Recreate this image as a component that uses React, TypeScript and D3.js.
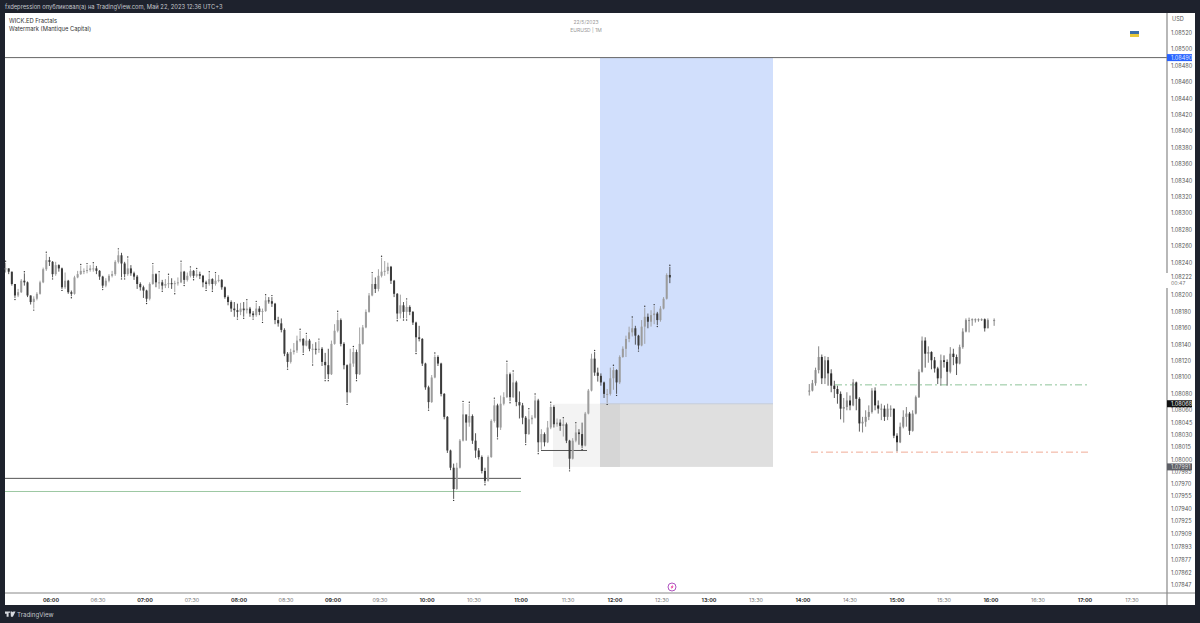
import React from "react";
import * as d3 from "d3";

// Prices are stored as points above 1.00000 (1 point = 0.00001)
const PRICE_BASE = 1.0;
const POINT = 0.00001;

// Morning session, 2-minute bars from 05:31
const closesA = [
8233,8229,8214,8200,8204,8218,8216,8200,8192,8196,8202,8216,8232,8243,8241,8226,8237,8233,8210,8218,8204,8202,8222,8226,8230,8230,8231,8233,8233,8230,8223,8212,8218,8224,8226,8241,8249,8239,8226,8233,8227,8223,8214,8210,8206,8196,8214,8226,8216,8216,8212,8214,8215,8214,8215,8216,8229,8219,8224,8230,8224,8226,8224,8216,8214,8220,8214,8218,8219,8210,8198,8192,8184,8182,8180,8184,8182,8184,8178,8176,8184,8180,8181,8194,8193,8190,8170,8166,8158,8129,8119,8131,8133,8145,
8147,8139,8145,8135,8135,8134,8135,8119,8115,8104,8141,8157,8170,8141,8115,8082,8117,8131,8104,8141,8161,8180,8200,8214,8208,8224,8229,8230,8235,8218,8202,8178,8188,8180,8186,8180,8167,8149,8147,8117,8088,8070,8100,8125,8117,8080,8052,8011,7990,7964,7990,8023,8055,8045,8053,8023,8011,8003,7986,7974,8003,8047,8066,8039,8068,8076,8104,8076,8094,8070,8066,8051,8031,8049,8051,8072,8021,8031,8021,8039,8064,8043,8045,8041,8043,8023,8001,8023,8033,8031,8017,8056,8084,8123,8106,8102,8094,
8080,8080,8099,8109,8094,8125,8135,8147,8155,8160,8151,8139,8162,8174,8168,8176,8178,8170,8184,8196,8225,8222];
const highsA = [
8240,8233,8229,8214,8208,8220,8227,8217,8200,8199,8204,8218,8234,8251,8247,8242,8241,8238,8234,8228,8219,8206,8224,8230,8236,8233,8237,8237,8238,8236,8231,8224,8221,8226,8230,8243,8255,8252,8241,8245,8237,8229,8225,8216,8212,8207,8216,8237,8227,8227,8219,8220,8224,8221,8218,8222,8240,8230,8228,8233,8231,8231,8229,8225,8218,8227,8221,8226,8225,8220,8211,8200,8194,8192,8190,8191,8192,8193,8186,8181,8191,8187,8184,8199,8198,8198,8191,8174,8172,8160,8131,8135,8142,8151,
8157,8148,8152,8147,8141,8143,8145,8137,8130,8135,8145,8165,8179,8172,8143,8116,8135,8136,8134,8161,8164,8183,8203,8226,8222,8232,8246,8242,8240,8236,8219,8203,8201,8192,8194,8188,8181,8168,8163,8148,8118,8090,8103,8128,8127,8118,8081,8053,8012,7995,7996,8025,8069,8050,8068,8055,8032,8014,8005,7990,8005,8049,8073,8068,8078,8082,8118,8106,8106,8096,8083,8069,8053,8060,8054,8078,8074,8037,8033,8047,8068,8066,8050,8049,8049,8045,8024,8026,8043,8037,8045,8058,8086,8129,8131,8112,8105,
8095,8086,8112,8113,8110,8127,8138,8151,8162,8172,8163,8152,8170,8185,8178,8182,8187,8180,8187,8198,8227,8235];
const lowsA = [
8228,8226,8212,8197,8198,8203,8212,8198,8189,8184,8194,8201,8215,8230,8236,8222,8224,8229,8208,8208,8202,8199,8201,8221,8225,8226,8227,8229,8229,8226,8219,8209,8210,8216,8222,8224,8239,8222,8222,8224,8224,8219,8208,8206,8197,8192,8194,8213,8210,8208,8207,8209,8209,8208,8204,8212,8215,8214,8217,8222,8221,8222,8220,8210,8208,8212,8207,8212,8216,8207,8196,8188,8180,8174,8173,8176,8174,8178,8174,8173,8174,8176,8169,8180,8190,8186,8165,8162,8155,8126,8112,8117,8128,8130,
8143,8130,8138,8132,8117,8128,8130,8114,8098,8098,8103,8140,8155,8138,8110,8069,8081,8113,8098,8103,8140,8160,8179,8199,8203,8205,8222,8224,8226,8214,8198,8171,8172,8172,8172,8176,8164,8131,8144,8114,8085,8062,8069,8099,8114,8077,8049,8008,7987,7952,7963,7989,8022,8023,8040,8019,8002,8000,7983,7971,7973,8002,8045,8027,8036,8066,8075,8071,8075,8065,8050,8043,8020,8030,8043,8050,8009,8012,8016,8020,8037,8039,8040,8035,8028,8020,7988,8000,8021,8018,8014,8016,8055,8083,8102,8095,8090,
8075,8069,8078,8085,8080,8092,8124,8125,8143,8150,8140,8134,8138,8141,8160,8162,8165,8164,8168,8183,8195,8215];

// Afternoon session, 2-minute bars from 14:04 (null = no bar)
const closesB: (number | null)[] = [
8084,8093,8109,8125,8099,8121,8105,8090,8086,8080,8062,8064,8072,8066,8094,8074,8044,8046,8052,8058,8084,8066,8062,8062,8052,8062,8062,8029,8021,8040,8052,8056,8035,8056,8076,8107,8145,8129,8131,8121,8111,8099,8121,8119,8107,8129,8125,8117,8137,8156,8170,8170,8171,8171,8171,8171,8160,8170,null,8170];
const highsB = [
8092,8097,8112,8138,8128,8126,8125,8110,8096,8090,8083,8075,8082,8078,8098,8095,8076,8052,8060,8066,8087,8088,8072,8068,8066,8068,8066,8062,8032,8045,8060,8064,8058,8060,8078,8110,8150,8149,8138,8132,8125,8113,8128,8127,8122,8137,8135,8128,8140,8160,8172,8173,8172,8172,8172,8172,8172,8172,0,8172];
const lowsB = [
8078,8083,8090,8105,8092,8092,8090,8082,8075,8068,8049,8045,8060,8060,8065,8060,8034,8033,8040,8048,8056,8060,8056,8048,8047,8048,8052,8026,8010,8020,8038,8040,8030,8034,8055,8075,8106,8112,8118,8110,8106,8092,8090,8112,8090,8105,8115,8103,8116,8135,8155,8155,8163,8167,8168,8169,8156,8160,0,8163];

const START_A = 331;
const START_B = 844;
const BAR_MINUTES = 2;

const priceTicks = [8520,8500,8480,8460,8440,8420,8400,8380,8360,8340,8320,8300,8280,8260,8240,8200,8180,8160,8140,8120,8100,8080,8060,8045,8030,8015,8000,7985,7970,7955,7940,7925,7909,7893,7877,7862,7847];
const timeTicks = ["06:00","06:30","07:00","07:30","08:00","08:30","09:00","09:30","10:00","10:30","11:00","11:30","12:00","12:30","13:00","13:30","14:00","14:30","15:00","15:30","16:00","16:30","17:00","17:30"];

// Drawing tool levels
const topLevel = 8490;
const entryLevel = 8068;
const stopLevel = 7991;
const lastPrice = 8222;
const leftLevels = [{ p: 7977, c: "#555" }, { p: 7961, c: "#9cc8a2" }];
const sweepLevel = 8011;
const dashGreen = 8091;
const dashOrange = 8009;

const W = 1200, H = 623;
const BG = "#1e222d";
const FONT = "Inter, 'Liberation Sans', sans-serif";

const y = d3.scaleLinear().domain([PRICE_BASE + 8520 * POINT, PRICE_BASE + 7847 * POINT]).range([33, 585]);
const x = d3.scaleLinear().domain([360, 1020]).range([51, 1085]);
const py = (p: number) => y(PRICE_BASE + p * POINT);
const fmt = d3.format(".5f");
const label = (p: number) => fmt(PRICE_BASE + p * POINT);

type Bar = { m: number; o: number; c: number; h: number; l: number };
function buildBars(cl: (number | null)[], hi: number[], lo: number[], start: number): Bar[] {
  const out: Bar[] = [];
  let prev: number | null = null;
  cl.forEach((c, i) => {
    if (c === null) return;
    out.push({ m: start + i * BAR_MINUTES, o: prev ?? c, c, h: hi[i], l: lo[i] });
    prev = c;
  });
  return out;
}
const barsA = buildBars(closesA, highsA, lowsA, START_A);
const barsB = buildBars(closesB, highsB, lowsB, START_B);

function Candles({ bars, up, down, wick }: { bars: Bar[]; up: string; down: string; wick: string }) {
  return (
    <g>
      {bars.map((b, i) => {
        const cx = x(b.m);
        const top = py(Math.max(b.o, b.c));
        const bot = py(Math.min(b.o, b.c));
        const isUp = b.c >= b.o;
        return (
          <g key={i}>
            <line x1={cx} x2={cx} y1={py(b.h)} y2={py(b.l)} stroke={isUp ? wick : "#444"} strokeWidth={0.9} />
            <rect x={cx - 1} width={2} y={top} height={Math.max(bot - top, 1)} fill={isUp ? up : down} />
          </g>
        );
      })}
    </g>
  );
}

// Fractal marks: a bar whose high/low is the extreme of its neighbours
function fractals(bars: Bar[]) {
  const pts: { m: number; p: number; up: boolean }[] = [];
  bars.forEach((b, i) => {
    const nb = [bars[i - 1], bars[i + 1]].filter(Boolean);
    if (nb.every((n) => n.h <= b.h)) pts.push({ m: b.m, p: b.h, up: true });
    if (nb.every((n) => n.l >= b.l)) pts.push({ m: b.m, p: b.l, up: false });
  });
  return pts;
}

export default function App() {
  const plotL = 5, plotR = 1167, top = 13, bottom = 593;
  const axisText = "#555";
  return (
    <svg width={W} height={H} viewBox={`0 0 ${W} ${H}`} style={{ position: "fixed", left: 0, top: 0, display: "block" }} fontFamily={FONT}>
      <defs>
        <filter id="soft" x="-2%" y="-2%" width="104%" height="104%">
          <feGaussianBlur stdDeviation="0.3" />
        </filter>
      </defs>
      <rect width={W} height={H} fill={BG} />
      <rect x={plotL} y={top} width={1195 - plotL} height={605 - top} fill="#fff" />

      {/* position tool */}
      <rect x={553} y={py(entryLevel)} width={67} height={py(stopLevel) - py(entryLevel)} fill="#f3f3f3" />
      <rect x={600} y={py(topLevel)} width={173} height={py(entryLevel) - py(topLevel)} fill="#d1dffc" />
      <rect x={600} y={py(entryLevel)} width={173} height={py(stopLevel) - py(entryLevel)} fill="#dfdfdf" />
      <rect x={600} y={py(entryLevel)} width={20} height={py(stopLevel) - py(entryLevel)} fill="#d6d6d6" />
      <line x1={600} x2={773} y1={py(entryLevel)} y2={py(entryLevel)} stroke="#bcc6d8" strokeWidth={0.8} />

      {/* level lines */}
      <line x1={plotL} x2={plotR} y1={py(topLevel)} y2={py(topLevel)} stroke="#666" strokeWidth={1} />
      {leftLevels.map((l, i) => (
        <line key={i} x1={plotL} x2={521} y1={py(l.p)} y2={py(l.p)} stroke={l.c} strokeWidth={1} />
      ))}
      <line x1={541} x2={587} y1={py(sweepLevel)} y2={py(sweepLevel)} stroke="#555" strokeWidth={1} />
      <line x1={835} x2={1088} y1={py(dashGreen)} y2={py(dashGreen)} stroke="#8fc49a" strokeWidth={1} strokeDasharray="7 3 2 3" />
      <line x1={811} x2={1088} y1={py(dashOrange)} y2={py(dashOrange)} stroke="#f0ab96" strokeWidth={1} strokeDasharray="7 3 2 3" />

      {/* candles */}
      <g filter="url(#soft)">
        <Candles bars={barsA} up="#9c9c9c" down="#3a3a3a" wick="#9a9a9a" />
        <Candles bars={barsB} up="#8a8a8a" down="#2a2a2a" wick="#777" />
        {fractals(barsA).map((f, i) => (
          <circle key={i} cx={x(f.m)} cy={py(f.p) + (f.up ? -1.5 : 1.5)} r={0.7} fill="#333" />
        ))}
      </g>

      {/* header */}
      <text x={5} y={9} fontSize={5.8} fill="#c4c6cc">fxdepression опубликовал(а) на TradingView.com, Май 22, 2023 12:36 UTC+3</text>
      <text x={9} y={23} fontSize={5.8} fill="#333">WICK.ED Fractals</text>
      <text x={9} y={31} fontSize={5.8} fill="#333">Watermark (Mantique Capital)</text>
      <text x={586} y={24} fontSize={5} fill="#999" textAnchor="middle">22/5/2023</text>
      <text x={586} y={32} fontSize={5} fill="#999" textAnchor="middle">EURUSD | 1M</text>
      <rect x={1130} y={31} width={9} height={3} fill="#3a6ea8" />
      <rect x={1130} y={34} width={9} height={3} fill="#e8c93a" />

      {/* price axis */}
      <rect x={1195} y={0} width={5} height={H} fill={BG} />
      <line x1={plotR} x2={plotR} y1={top} y2={605} stroke="#888" strokeWidth={1.2} />
      <text x={1172} y={21} fontSize={5.6} fill={axisText}>USD</text>
      {priceTicks.map((t) => (
        <text key={t} x={1171} y={py(t) + 2} fontSize={5.6} fill={axisText}>{label(t)}</text>
      ))}
      <rect x={1166} y={273} width={28} height={15} fill="#fff" />
      <text x={1171} y={py(lastPrice) + 2} fontSize={5.6} fill={axisText}>{label(lastPrice)}</text>
      <text x={1171} y={py(lastPrice) + 7.5} fontSize={5.2} fill="#777">00:47</text>
      <rect x={1167} y={py(topLevel) - 3.5} width={25} height={7} fill="#2962ff" />
      <text x={1171} y={py(topLevel) + 2} fontSize={5.6} fill="#dce6ff">{label(topLevel)}</text>
      <rect x={1167} y={py(entryLevel) - 3.5} width={25} height={7} fill="#111" />
      <text x={1171} y={py(entryLevel) + 2} fontSize={5.6} fill="#eee">{label(entryLevel)}</text>
      <rect x={1167} y={py(stopLevel) - 3.5} width={25} height={7} fill="#5d5f66" />
      <text x={1171} y={py(stopLevel) + 2} fontSize={5.6} fill="#ddd">{label(stopLevel)}</text>

      {/* time axis */}
      <line x1={plotL} x2={1195} y1={bottom} y2={bottom} stroke="#888" strokeWidth={1} />
      {timeTicks.map((t, i) => (
        <text key={t} x={x(360 + i * 30)} y={601.5} fontSize={5.4} textAnchor="middle"
          fontWeight={i % 2 === 0 ? 700 : 400} fill={i % 2 === 0 ? "#333" : "#777"}>{t}</text>
      ))}
      <circle cx={672} cy={587} r={4} fill="#fff" stroke="#9c27b0" strokeWidth={0.8} />
      <path d="M673 584.5 L670.6 587.5 L672 587.5 L671 589.5 L673.6 586.5 L672.2 586.5 Z" fill="#e91e8c" />

      {/* footer */}
      <path d="M5 611.5h5v1.2H8.6v4H6.6v-3H5z M10.5 611.5h1.8l0 .8 1.2 -.8h2l-2.6 5.2h-2z" fill="#d8dae0" />
      <text x={17} y={617} fontSize={6.2} fill="#c4c6cc">TradingView</text>
    </svg>
  );
}
